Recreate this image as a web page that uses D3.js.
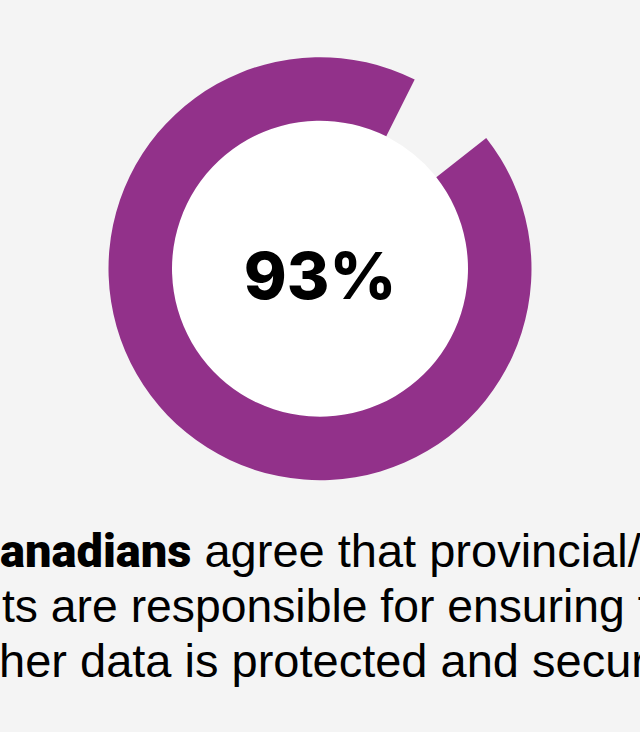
<!DOCTYPE html>
<html>
<head>
<meta charset="utf-8">
<script src="https://cdn.jsdelivr.net/npm/d3@7"></script>
<style>
  html, body { margin: 0; padding: 0; background: #f4f4f4; overflow: hidden; }
  svg { display: block; }
</style>
</head>
<body>
<svg id="chart" width="640" height="732"></svg>
<script>
// ---- data ----
const categories = ["Agree", "Other"];
const values = [93, 7];
const centerLabel = "93%";
const captionLines = [
  { hidden: "C", bold: "anadians", rest: " agree that provincial/territorial" },
  { hidden: "governmen", bold: "", rest: "ts are responsible for ensuring that" },
  { hidden: "his/", bold: "", rest: "her data is protected and secure." }
];

// ---- layout ----
const W = 640, H = 732;
const cx = 320, cy = 268.7;
const rOuter = 211.5, rInner = 148;
const purple = "#92318a";
const startDeg = 51.8;

const svg = d3.select("#chart");
svg.append("rect").attr("width", W).attr("height", H).attr("fill", "#f4f4f4");

const g = svg.append("g").attr("transform", `translate(${cx},${cy})`);

// white inner disc
g.append("circle").attr("r", rInner).attr("fill", "#ffffff");

const start = startDeg * Math.PI / 180;
const pie = d3.pie().sort(null).value(d => d.v)
  .startAngle(start).endAngle(start + 2 * Math.PI);
const arcs = pie(categories.map((c, i) => ({ c, v: values[i] })));
const arc = d3.arc().innerRadius(rInner).outerRadius(rOuter);

g.selectAll("path.slice").data(arcs).join("path")
  .attr("class", "slice")
  .attr("d", arc)
  .attr("fill", (d, i) => i === 0 ? purple : "none");

g.append("text")
  .attr("x", 0).attr("y", 30)
  .attr("text-anchor", "middle")
  .attr("font-family", "Inter, 'Noto Sans', sans-serif")
  .attr("font-weight", 800)
  .attr("font-size", 65)
  .attr("fill", "#000")
  .text(centerLabel);

// caption
const fontSizes = [47, 46.3, 47];
const baselines = [566.5, 621.5, 676.5];
const visibleStart = [0, 2, -1];
captionLines.forEach((ln, i) => {
  const t = svg.append("text")
    .attr("y", baselines[i])
    .attr("font-family", "'Liberation Sans', Arial, sans-serif")
    .attr("font-size", fontSizes[i])
    .attr("fill", "#000");
  const boldAttrs = s => s.attr("font-family", "Roboto, 'Liberation Sans', sans-serif").attr("font-weight", 900);
  const hid = t.append("tspan").text(ln.hidden);
  if (ln.bold) {
    boldAttrs(hid);
    boldAttrs(t.append("tspan").text(ln.bold));
  }
  t.append("tspan").attr("font-weight", 400).text(ln.rest);
  const hw = hid.node().getComputedTextLength();
  t.attr("x", visibleStart[i] - hw);
});
</script>
</body>
</html>
